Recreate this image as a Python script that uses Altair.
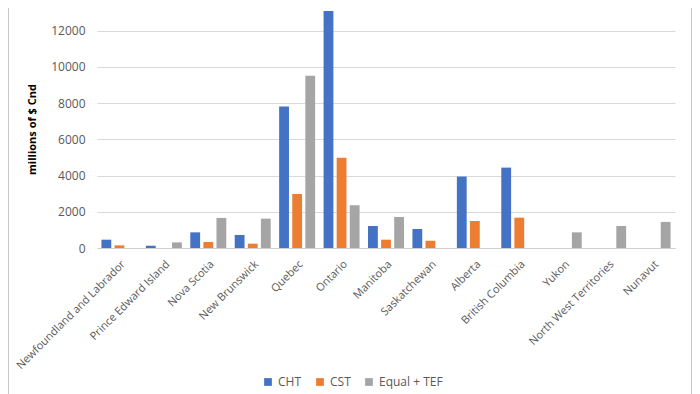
import altair as alt
import pandas as pd

provinces = ["Newfoundland and Labrador", "Prince Edward Island", "Nova Scotia",
             "New Brunswick", "Quebec", "Ontario", "Manitoba", "Saskatchewan",
             "Alberta", "British Columbia", "Yukon", "North West Territories", "Nunavut"]
series = ["CHT", "CST", "Equal + TEF"]
cht = [460, 125, 865, 720, 7815, 13090, 1215, 1050, 3945, 4440, 0, 0, 0]
cst = [145, 0, 330, 240, 2985, 4980, 460, 400, 1490, 1675, 0, 0, 0]
equal_tef = [0, 310, 1660, 1620, 9510, 2355, 1715, 0, 0, 0, 865, 1215, 1440]
y_ticks = [0, 2000, 4000, 6000, 8000, 10000, 12000]
colors = ["#4472C4", "#ED7D31", "#A5A5A5"]

rows = []
for i, p in enumerate(provinces):
    for s, vals in zip(series, [cht, cst, equal_tef]):
        rows.append({"province": p, "series": s, "value": vals[i]})
df = pd.DataFrame(rows)

FONT = "Open Sans"
TXT = "#595959"

bars = alt.Chart(df).mark_bar().encode(
    x=alt.X("province:N", sort=provinces,
            scale=alt.Scale(paddingInner=0.19, paddingOuter=0.1),
            axis=alt.Axis(title=None, labelAngle=-45, labelAlign="right",
                          labelBaseline="top", labelPadding=10, ticks=False,
                          domainColor="#d0d0d0", labelColor=TXT, labelFontSize=11,
                          labelFont=FONT, labelLimit=300)),
    xOffset=alt.XOffset("series:N", sort=series,
                        scale=alt.Scale(paddingInner=0.25, paddingOuter=0)),
    y=alt.Y("value:Q", scale=alt.Scale(domain=[0, 13200], nice=False),
            axis=alt.Axis(values=y_ticks, format="d", title="millions of $ Cnd",
                          ticks=False, domain=False, gridColor="#d9d9d9",
                          labelColor=TXT, labelFontSize=12, labelFont=FONT,
                          labelPadding=12, titleFont=FONT, titleFontSize=11,
                          titleFontWeight="bold", titleColor="#000000",
                          titleX=-60, titleY=120)),
    color=alt.Color("series:N", sort=series,
                    scale=alt.Scale(domain=series, range=colors),
                    legend=alt.Legend(orient="none", legendX=165, legendY=367,
                                      direction="horizontal", title=None,
                                      symbolType="square", symbolSize=60,
                                      symbolStrokeWidth=0, labelFontSize=12,
                                      labelFont=FONT, labelColor=TXT,
                                      columnPadding=12)),
)

border_df = pd.DataFrame({"k": [0]})
left_border = alt.Chart(border_df).mark_rule(color="#c8c8c8", strokeWidth=1).encode(
    x=alt.value(-88.5), y=alt.value(-20), y2=alt.value(400))
right_border = alt.Chart(border_df).mark_rule(color="#c8c8c8", strokeWidth=1).encode(
    x=alt.value(594.5), y=alt.value(-20), y2=alt.value(400))

chart = alt.layer(bars, left_border, right_border).properties(
    width=578, height=239,
    autosize=alt.AutoSizeParams(type="none"),
    padding={"left": 89, "top": 1, "right": 17, "bottom": 146},
).configure(font=FONT).configure_view(stroke=None, strokeWidth=0)

chart.save("out.html", embed_options={"renderer": "svg", "actions": False})
